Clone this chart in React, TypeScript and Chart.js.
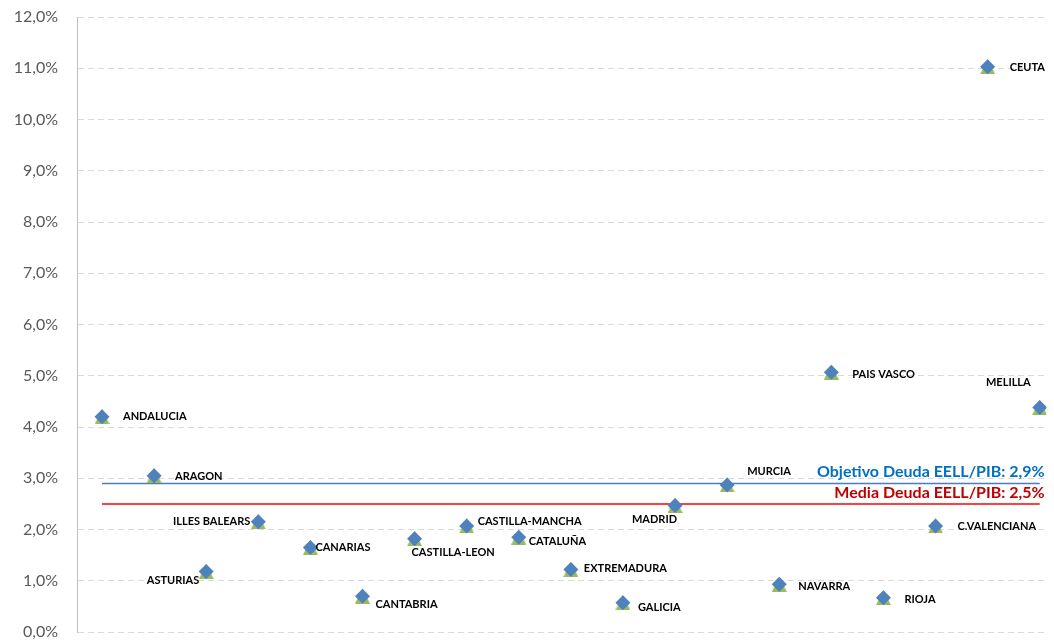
import React, { useEffect, useRef } from "react";
import { Chart, registerables } from "chart.js";

Chart.register(...registerables);

const regions = [
  "ANDALUCIA", "ARAGON", "ASTURIAS", "ILLES BALEARS", "CANARIAS", "CANTABRIA",
  "CASTILLA-LEON", "CASTILLA-MANCHA", "CATALUÑA", "EXTREMADURA", "GALICIA",
  "MADRID", "MURCIA", "NAVARRA", "PAIS VASCO", "RIOJA", "C.VALENCIANA", "CEUTA", "MELILLA",
];
const debtRatio = [
  4.2, 3.05, 1.18, 2.15, 1.65, 0.7, 1.82, 2.07, 1.85, 1.22, 0.57,
  2.47, 2.87, 0.93, 5.07, 0.67, 2.07, 11.03, 4.38,
];
const referenceValues = [2.9, 2.5];
const referenceLabels = ["Objetivo Deuda EELL/PIB: 2,9%", "Media Deuda EELL/PIB: 2,5%"];
const yTicks = [0, 1, 2, 3, 4, 5, 6, 7, 8, 9, 10, 11, 12];

// label placement: [dx, dy, align]
const labelPlacement: [number, number, CanvasTextAlign][] = [
  [21, 0, "left"], [21, 1, "left"], [-7, 9, "right"], [-8, 0, "right"], [5, 0, "left"],
  [13, 8, "left"], [-3, 14, "left"], [11, -4, "left"], [10, 4, "left"], [13, -1, "left"],
  [15, 5, "left"], [2, 14, "right"], [20, -13, "left"], [19, 2, "left"], [21, 2, "left"],
  [21, 2, "left"], [22, 1, "left"], [22, 1, "left"], [-9, -25, "right"],
];

const FONT = "Lato, 'Open Sans', sans-serif";

function makeTriangle(size: number, color: string): HTMLCanvasElement {
  const c = document.createElement("canvas");
  c.width = size;
  c.height = size;
  const g = c.getContext("2d")!;
  g.fillStyle = color;
  g.beginPath();
  g.moveTo(size / 2, 0);
  g.lineTo(size, size);
  g.lineTo(0, size);
  g.closePath();
  g.fill();
  return c;
}

const labelsPlugin = {
  id: "pointLabels",
  afterDatasetsDraw(chart: any) {
    const { ctx, scales } = chart;
    const xs = scales.x;
    const ys = scales.y;
    ctx.save();
    ctx.font = `bold 11px ${FONT}`;
    ctx.fillStyle = "#000000";
    ctx.textBaseline = "middle";
    regions.forEach((name, i) => {
      const px = xs.getPixelForValue(i);
      const py = ys.getPixelForValue(debtRatio[i]);
      const [dx, dy, align] = labelPlacement[i];
      ctx.textAlign = align;
      ctx.fillText(name, px + dx, py + dy);
    });
    const colors = ["#0070C0", "#C00000"];
    ctx.font = `bold 16px ${FONT}`;
    ctx.textAlign = "right";
    ctx.textBaseline = "alphabetic";
    referenceValues.forEach((v, i) => {
      const py = ys.getPixelForValue(v);
      ctx.fillStyle = colors[i];
      ctx.fillText(referenceLabels[i], xs.getPixelForValue(18) + 5, py - 6);
    });
    ctx.restore();
  },
};

export default function App() {
  const canvasRef = useRef<HTMLCanvasElement | null>(null);

  useEffect(() => {
    if (!canvasRef.current) return;
    const pts = debtRatio.map((v, i) => ({ x: i, y: v }));
    const tri = makeTriangle(15, "#9BBB59");
    const chart = new Chart(canvasRef.current, {
      type: "scatter",
      data: {
        datasets: [
          {
            label: "diamond",
            data: pts,
            pointStyle: "rectRot",
            pointRadius: 7.5,
            pointBackgroundColor: "#4F81BD",
            pointBorderColor: "#4F81BD",
            pointBorderWidth: 0,
            showLine: false,
            order: 0,
          } as any,
          {
            label: "triangle",
            data: pts,
            pointStyle: tri,
            pointRadius: 7.5,
            pointBackgroundColor: "#9BBB59",
            pointBorderColor: "#9BBB59",
            pointBorderWidth: 0,
            showLine: false,
            order: 1,
          } as any,
          {
            label: "objetivo",
            data: [{ x: 0, y: referenceValues[0] }, { x: 18, y: referenceValues[0] }],
            showLine: true,
            borderColor: "#4A7EBB",
            borderWidth: 1.5,
            pointRadius: 0,
            order: 2,
          } as any,
          {
            label: "media",
            data: [{ x: 0, y: referenceValues[1] }, { x: 18, y: referenceValues[1] }],
            showLine: true,
            borderColor: "#FF0000",
            borderWidth: 1.5,
            pointRadius: 0,
            order: 3,
          } as any,
        ],
      },
      options: {
        animation: false,
        responsive: true,
        maintainAspectRatio: false,
        layout: { padding: { top: 17, bottom: 12, left: 0, right: 0 } },
        plugins: {
          legend: { display: false },
          tooltip: { enabled: false },
        },
        scales: {
          x: {
            type: "linear",
            min: -0.48,
            max: 18.13,
            display: false,
          },
          y: {
            type: "linear",
            min: 0,
            max: 12,
            afterFit: (s: any) => {
              s.width = 77;
              s.paddingTop = 0;
              s.paddingBottom = 0;
            },
            afterBuildTicks: (s: any) => { s.ticks = yTicks.map((v) => ({ value: v })); },
            ticks: {
              padding: 19,
              color: "#595959",
              font: { family: FONT, size: 16 },
              callback: (v: any) => Number(v).toFixed(1).replace(".", ",") + "%",
            },
            grid: { color: "#D9D9D9", lineWidth: 1, drawTicks: false },
            border: { display: true, color: "#BFBFBF", width: 1, dash: [6, 4] },
          },
        },
      },
      plugins: [labelsPlugin],
    });
    return () => chart.destroy();
  }, []);

  return (
    <div style={{ position: "absolute", left: 0, top: 0, width: 1054, height: 644, background: "#fff" }}>
      <canvas ref={canvasRef} />
    </div>
  );
}
